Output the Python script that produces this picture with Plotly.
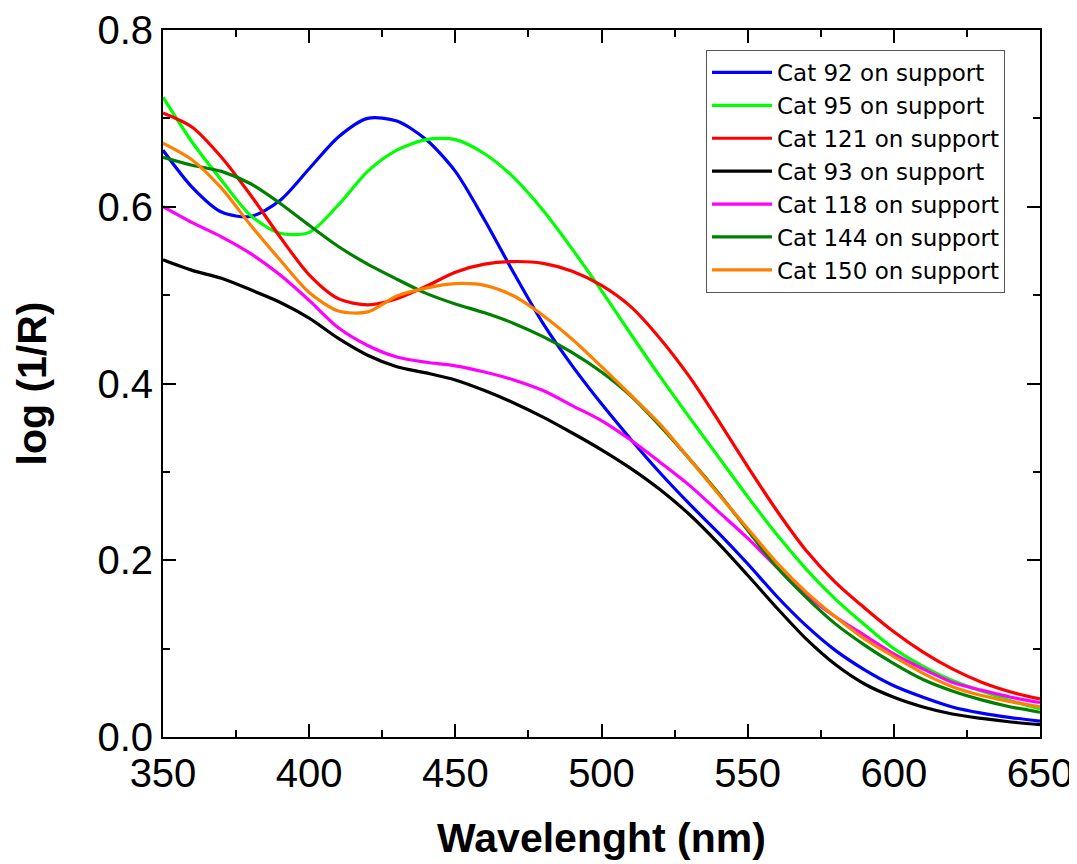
import plotly.graph_objects as go

wavelength = [350, 360, 370, 380, 390, 400, 410, 420, 430, 440, 450, 460, 470, 480, 490,
              500, 510, 520, 530, 540, 550, 560, 570, 580, 590, 600, 610, 620, 630, 640, 650]

cat92 = [0.664, 0.622, 0.594, 0.589, 0.607, 0.643, 0.679, 0.700, 0.697, 0.676, 0.640, 0.585, 0.525, 0.468, 0.420,
         0.377, 0.337, 0.299, 0.264, 0.231, 0.196, 0.159, 0.126, 0.098, 0.076, 0.058, 0.045, 0.034, 0.027, 0.022, 0.018]
cat95 = [0.724, 0.673, 0.630, 0.590, 0.570, 0.571, 0.602, 0.640, 0.664, 0.676, 0.676, 0.660, 0.633, 0.596, 0.552,
         0.505, 0.456, 0.408, 0.362, 0.317, 0.272, 0.229, 0.190, 0.156, 0.127, 0.100, 0.080, 0.064, 0.052, 0.041, 0.032]
cat121 = [0.706, 0.690, 0.656, 0.613, 0.566, 0.523, 0.496, 0.489, 0.496, 0.510, 0.526, 0.535, 0.538, 0.536, 0.527,
          0.511, 0.487, 0.451, 0.408, 0.358, 0.306, 0.256, 0.211, 0.175, 0.146, 0.119, 0.096, 0.077, 0.062, 0.051, 0.043]
cat93 = [0.540, 0.528, 0.519, 0.506, 0.492, 0.474, 0.451, 0.432, 0.419, 0.412, 0.404, 0.392, 0.378, 0.362, 0.344,
         0.325, 0.304, 0.280, 0.252, 0.219, 0.183, 0.146, 0.111, 0.082, 0.060, 0.045, 0.034, 0.026, 0.021, 0.017, 0.014]
cat118 = [0.600, 0.582, 0.566, 0.547, 0.523, 0.494, 0.463, 0.443, 0.430, 0.424, 0.420, 0.413, 0.404, 0.392, 0.375,
          0.358, 0.336, 0.311, 0.285, 0.255, 0.225, 0.192, 0.161, 0.136, 0.115, 0.094, 0.077, 0.062, 0.053, 0.045, 0.039]
cat144 = [0.656, 0.647, 0.640, 0.626, 0.604, 0.579, 0.555, 0.535, 0.518, 0.502, 0.490, 0.480, 0.468, 0.453, 0.435,
          0.413, 0.386, 0.352, 0.315, 0.276, 0.234, 0.192, 0.158, 0.128, 0.104, 0.083, 0.065, 0.052, 0.042, 0.034, 0.028]
cat150 = [0.672, 0.653, 0.621, 0.579, 0.540, 0.503, 0.482, 0.481, 0.499, 0.508, 0.513, 0.511, 0.499, 0.477, 0.450,
          0.419, 0.387, 0.354, 0.315, 0.275, 0.236, 0.197, 0.164, 0.136, 0.111, 0.091, 0.072, 0.057, 0.047, 0.040, 0.034]

names = ["Cat 92 on support", "Cat 95 on support", "Cat 121 on support", "Cat 93 on support",
         "Cat 118 on support", "Cat 144 on support", "Cat 150 on support"]
series = [cat92, cat95, cat121, cat93, cat118, cat144, cat150]
colors = ["#0000ff", "#00ff00", "#ff0000", "#000000", "#ff00ff", "#008000", "#ff8000"]

FONT = "Liberation Sans, Arial, sans-serif"
LEGEND_FONT = "DejaVu Sans, Liberation Sans, Arial, sans-serif"

fig = go.Figure()
for name, ys, col in zip(names, series, colors):
    fig.add_trace(go.Scatter(x=wavelength, y=ys, mode="lines", name=name,
                             line=dict(color=col, width=3.2, shape="spline", smoothing=0.8)))

# page body adds an 8px offset; figure coordinates = screen - 8
W, H = 1069, 856
L, R, T, B = 155, 37, 22, 127
pw, ph = W - L - R, H - T - B

axis_common = dict(showline=True, linewidth=2, linecolor="black", mirror="ticks",
                   ticks="inside", ticklen=13, tickwidth=2, tickcolor="black",
                   showgrid=False, zeroline=False, automargin=False,
                   tickfont=dict(family=FONT, size=40, color="black"))

fig.update_xaxes(range=[350, 650], tickvals=[350, 400, 450, 500, 550, 600, 650],
                 minor=dict(ticks="inside", ticklen=7, tickwidth=2, tickcolor="black", dtick=25, tick0=350),
                 title=dict(text="<b>Wavelenght (nm)</b>", font=dict(family=FONT, size=41, color="black"), standoff=29),
                 **axis_common)
fig.update_yaxes(range=[0, 0.8], tickvals=[0, 0.2, 0.4, 0.6, 0.8], tickformat=".1f",
                 minor=dict(ticks="inside", ticklen=7, tickwidth=2, tickcolor="black", dtick=0.1, tick0=0),
                 title=dict(text="<b>log (1/R)</b>", font=dict(family=FONT, size=41, color="black"), standoff=38),
                 **axis_common)

fig.update_layout(
    width=W, height=H,
    margin=dict(l=L, r=R, t=T, b=B),
    paper_bgcolor="white",
    plot_bgcolor="white",
    showlegend=True,
    legend=dict(x=(698 - L) / pw, y=(H - B - 42) / ph, xanchor="left", yanchor="top",
                bgcolor="white", bordercolor="#555555", borderwidth=1,
                font=dict(family=LEGEND_FONT, size=23, color="black"),
                itemwidth=60, tracegroupgap=0),
)

fig.write_html("out.html")
